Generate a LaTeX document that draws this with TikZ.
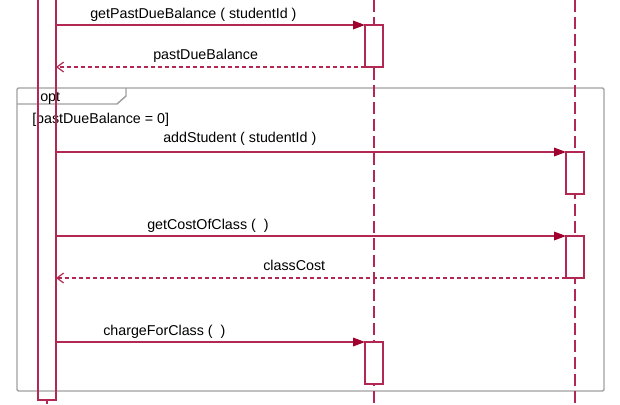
\documentclass[tikz,border=0pt]{standalone}
\usepackage{fontspec}
\setmainfont{Liberation Sans}
\usetikzlibrary{positioning, arrows.meta, calc}
\definecolor{umlline}{RGB}{178,40,82}
\definecolor{umlhead}{RGB}{160,0,45}
\definecolor{framegray}{RGB}{160,160,160}

\begin{document}
\begin{tikzpicture}[
            x=0.75pt, y=-0.75pt,
            font=\fontsize{10.7}{12}\selectfont,
            activation/.style={draw=umlline, fill=white, line width=0.9pt, minimum width=13.5pt, minimum height=31.5pt, inner sep=0pt, outer sep=0pt, anchor=north west},
            lifeline/.style={draw=umlline, line width=0.9pt, dash pattern=on 9pt off 3.75pt},
            call/.style={draw=umlline, line width=0.9pt, -{Triangle[length=9pt, width=6.5pt, color=umlhead]}},
            reply/.style={draw=umlline, line width=0.9pt, dash pattern=on 3pt off 2.25pt, -{Straight Barb[length=5pt, width=7.5pt]}},
            msglabel/.style={anchor=base west, inner sep=0pt},
            fragment/.style={draw=framegray, line width=1.1pt},
        ]
            % Keep only the visible part
            \clip (0,0) rectangle (620,404);

            % Draw the opt fragment
            \draw[fragment, rounded corners=1pt] (17,88) rectangle (604,391);
            \draw[fragment] (17,104) -- (117,104) -- (126,96) -- (126,88);
            \node[msglabel] (opt) at (40,101) {opt};
            \node[msglabel] (guard) at (32,123) {[pastDueBalance = 0]};

            % Draw the lifelines
            \foreach \name / \x in {L2/374, L3/575} {
                \coordinate (\name-top) at (\x,0);
                \coordinate (\name-bot) at (\x,404);
                \draw[lifeline] (\name-top) -- (\name-bot);
            }

            % Draw the caller's activation bar
            \node[activation, fill=none, anchor=south west, minimum height=307.5pt] (U) at (38,400) {};
            \coordinate (U-end) at (47,404);
            \draw[umlline, line width=0.9pt] (U.south) -- (U-end);

            % Draw the activation boxes
            \node[activation] (A1) at (365,25) {};
            \node[activation] (A2) at (365,342) {};
            \node[activation] (B1) at (566,152) {};
            \node[activation] (B2) at (566,236) {};

            % Draw the messages
            \draw[call] (U.east |- A1.north) -- (A1.north west);
            \draw[reply] (A1.south west) -- (U.east |- A1.south);
            \draw[call] (U.east |- B1.north) -- (B1.north west);
            \draw[call] (U.east |- B2.north) -- (B2.north west);
            \draw[reply] (B2.south west) -- (U.east |- B2.south);
            \draw[call] (U.east |- A2.north) -- (A2.north west);

            % Message labels
            \node[msglabel] (m1) at (90,18) {getPastDueBalance ( studentId )};
            \node[msglabel] (r1) at (153,59) {pastDueBalance};
            \node[msglabel] (m2) at (163,142) {addStudent ( studentId )};
            \node[msglabel] (m3) at (147,229) {getCostOfClass (~~)};
            \node[msglabel] (r2) at (263,270) {classCost};
            \node[msglabel] (m4) at (103,335) {chargeForClass (~~)};
        \end{tikzpicture}
\end{document}
